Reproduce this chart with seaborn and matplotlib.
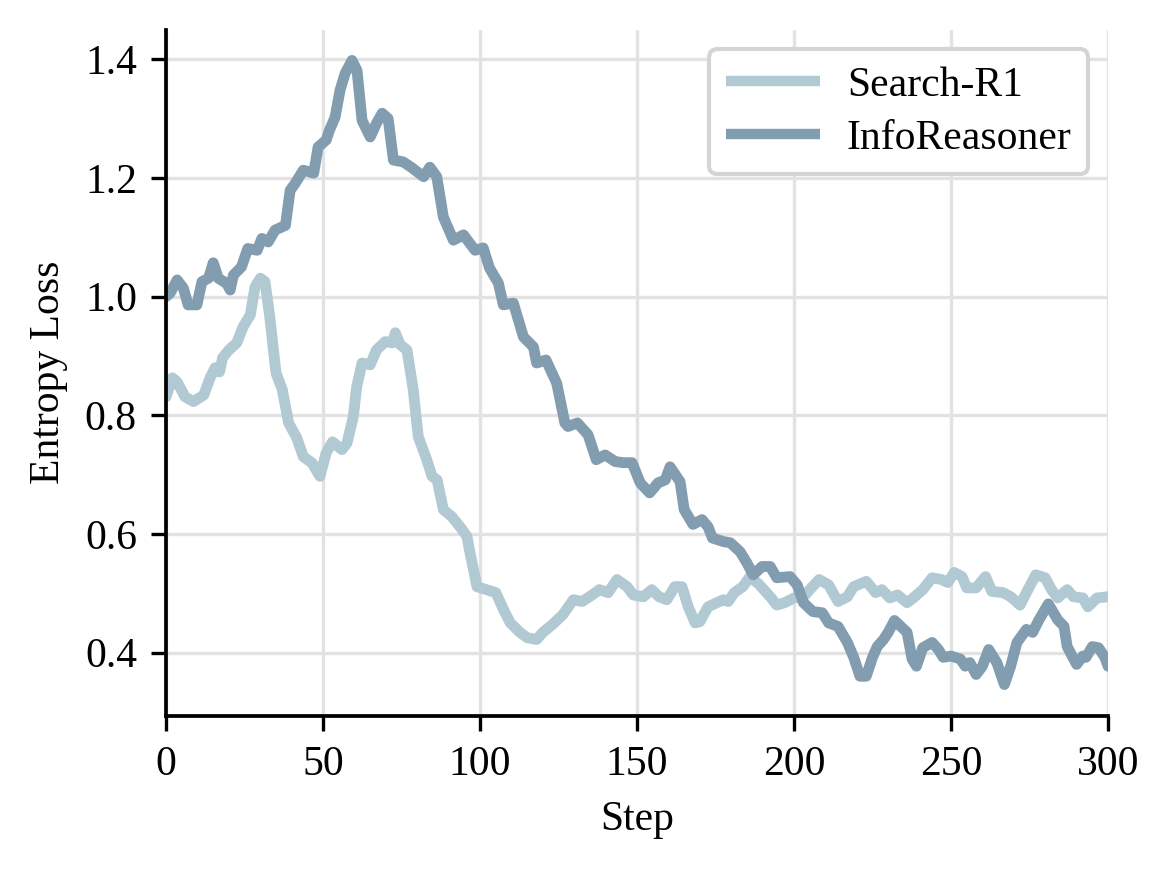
import pandas as pd
import seaborn as sns
import matplotlib.pyplot as plt

# Values
search_steps = [0, 2, 3.5, 6, 8.7, 12, 14, 15.6, 17, 18, 20, 22.5, 24.5, 26.8, 28.3, 30, 31.5, 33, 35, 37,
                39, 41.6, 43.7, 46.4, 49, 51, 53, 56, 57.6, 59.6, 60.7, 62.4, 65, 67, 69.8, 72, 73, 74.5,
                76.7, 78.7, 80.3, 83, 84.7, 86.3, 88.3, 91, 93.6, 95.8, 96.8, 99, 102, 105, 107.5, 109.6,
                112.7, 115, 118, 120, 123, 126.4, 129.7, 132.5, 135.7, 138, 140.8, 143.6, 146.8, 148.8,
                152, 154.7, 157, 159.5, 162, 164.3, 166.3, 168.5, 170, 172.6, 175.4, 177.5, 179, 181,
                183.7, 186, 189, 192.4, 194.5, 197, 200, 203, 205, 208, 211, 214, 217, 219, 223, 226,
                228, 230.5, 233, 236, 238, 241, 244, 247, 249, 251, 253.5, 255, 258, 261, 263, 266.6,
                269, 272, 274.5, 277, 280, 282, 284, 287, 289, 292, 293.6, 296.5, 300]
search_loss = [0.831, 0.863, 0.856, 0.831, 0.823, 0.834, 0.863, 0.88, 0.873, 0.897, 0.91, 0.922, 0.949,
               0.969, 1.016, 1.031, 1.025, 0.966, 0.871, 0.843, 0.787, 0.762, 0.73, 0.72, 0.697, 0.737,
               0.755, 0.742, 0.753, 0.797, 0.848, 0.888, 0.885, 0.91, 0.924, 0.922, 0.939, 0.919, 0.91,
               0.843, 0.764, 0.725, 0.697, 0.691, 0.641, 0.629, 0.612, 0.596, 0.568, 0.511, 0.506, 0.501,
               0.472, 0.45, 0.434, 0.425, 0.422, 0.434, 0.447, 0.464, 0.489, 0.486, 0.497, 0.506, 0.501,
               0.523, 0.511, 0.497, 0.494, 0.506, 0.494, 0.489, 0.511, 0.511, 0.477, 0.45, 0.452, 0.477,
               0.484, 0.489, 0.486, 0.501, 0.511, 0.528, 0.514, 0.494, 0.48, 0.484, 0.492, 0.494, 0.506,
               0.523, 0.514, 0.486, 0.494, 0.511, 0.52, 0.501, 0.506, 0.492, 0.497, 0.484, 0.492, 0.506,
               0.526, 0.523, 0.518, 0.535, 0.528, 0.509, 0.509, 0.528, 0.503, 0.501, 0.494, 0.48, 0.506,
               0.531, 0.526, 0.506, 0.492, 0.506, 0.494, 0.492, 0.477, 0.492, 0.494]

info_steps = [0, 1.3, 3.5, 5.5, 7, 9.8, 11.4, 13.5, 15, 16.6, 19.3, 20.4, 21.4, 24, 26, 29, 30.5, 32.5,
              34.7, 38, 39.5, 41, 43.7, 47, 48.4, 51, 52, 53.8, 55.4, 57, 59.2, 60.8, 62.4, 65, 67, 68.8,
              70.7, 72.4, 75.5, 78.3, 82, 84, 86.2, 88.3, 91.5, 94.7, 98.4, 101, 103, 105.8, 107.4, 110.6,
              113.8, 117, 118, 121, 124.4, 127, 128, 131, 134.4, 137, 139.8, 143, 145.5, 148.4, 151, 154,
              156.7, 159, 160.5, 163.7, 165, 167.8, 170.7, 172.6, 174, 177.5, 179.7, 182.8, 185, 187,
              189.8, 192.4, 194.5, 198.7, 201, 203, 206, 209, 211, 214, 217, 219, 221, 223, 225, 226.5,
              228.5, 230, 232, 234, 236, 237.6, 239, 241, 244, 246, 247.5, 250, 253, 254.5, 256, 258,
              260, 262, 264.6, 267, 269, 271, 274, 276, 278, 281, 284, 286, 287, 290, 292, 293, 295, 297,
              299, 300]
info_loss = [1.00, 1.006, 1.028, 1.014, 0.986, 0.986, 1.025, 1.031, 1.057, 1.031, 1.022, 1.011, 1.036,
             1.05, 1.081, 1.078, 1.098, 1.092, 1.112, 1.12, 1.179, 1.19, 1.213, 1.208, 1.252, 1.264, 1.28,
             1.302, 1.348, 1.376, 1.398, 1.381, 1.297, 1.269, 1.292, 1.309, 1.30, 1.23, 1.227, 1.217,
             1.202, 1.218, 1.202, 1.134, 1.095, 1.104, 1.078, 1.082, 1.048, 1.023, 0.986, 0.989, 0.932,
             0.915, 0.888, 0.893, 0.854, 0.787, 0.781, 0.787, 0.767, 0.725, 0.733, 0.722, 0.72, 0.72,
             0.686, 0.669, 0.686, 0.691, 0.713, 0.688, 0.641, 0.616, 0.624, 0.612, 0.593, 0.587, 0.585,
             0.57, 0.551, 0.531, 0.545, 0.545, 0.526, 0.528, 0.514, 0.484, 0.469, 0.467, 0.45, 0.444,
             0.417, 0.392, 0.36, 0.36, 0.392, 0.41, 0.422, 0.434, 0.454, 0.444, 0.434, 0.389, 0.377,
             0.408, 0.417, 0.405, 0.392, 0.394, 0.389, 0.377, 0.383, 0.363, 0.377, 0.405, 0.383, 0.346,
             0.377, 0.417, 0.439, 0.434, 0.455, 0.482, 0.455, 0.444, 0.41, 0.38, 0.394, 0.392, 0.41,
             0.408, 0.392, 0.377]

methods = ["Search-R1", "InfoReasoner"]
colors = ["#b0c9d2", "#839db0"]

df = pd.concat([
    pd.DataFrame({"Step": search_steps, "loss": search_loss, "method": methods[0]}),
    pd.DataFrame({"Step": info_steps, "loss": info_loss, "method": methods[1]}),
])

sns.set_style("ticks")
plt.rcParams["font.family"] = ["Liberation Serif", "DejaVu Serif"]
plt.rcParams.update({"text.color": "black", "axes.labelcolor": "black",
                     "xtick.color": "black", "ytick.color": "black",
                     "axes.edgecolor": "black"})

fig = plt.figure(figsize=(3.9, 2.9), dpi=300)
ax = fig.add_axes([0.142, 0.177, 0.805, 0.789])

sns.lineplot(data=df, x="Step", y="loss", hue="method", hue_order=methods,
             palette=colors, linewidth=2.6, ax=ax, sort=False,
             solid_joinstyle="round", solid_capstyle="round")

ax.set_xlim(0, 300)
ax.set_ylim(0.293, 1.45)
ax.set_xticks([0, 50, 100, 150, 200, 250, 300])
ax.set_yticks([0.4, 0.6, 0.8, 1.0, 1.2, 1.4])
ax.set_xlabel("Step", fontsize=10)
ax.set_ylabel("Entropy Loss", fontsize=10)
ax.tick_params(labelsize=10, width=0.8, length=3.5)
ax.grid(True, color="#e2e2e2", linewidth=0.8)
ax.set_axisbelow(True)
sns.despine(ax=ax)
for s in ["left", "bottom"]:
    ax.spines[s].set_linewidth(0.9)

leg = ax.legend(loc="upper right", fontsize=10, frameon=True, fancybox=True,
                edgecolor="#d4d4d4", framealpha=1, handlelength=2.25,
                handletextpad=0.65, borderpad=0.4, labelspacing=0.35,
                borderaxespad=0, bbox_to_anchor=(0.979, 0.971))
leg.get_frame().set_linewidth(1.0)
for line in leg.get_lines():
    line.set_linewidth(2.5)
    line.set_solid_capstyle("butt")

fig.savefig("out.png", dpi=300)
